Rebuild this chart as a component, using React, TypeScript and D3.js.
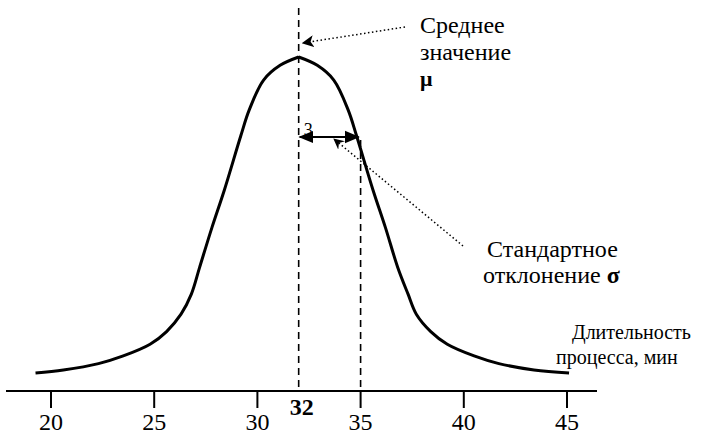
import React from "react";
import * as d3 from "d3";

const tickValues = [20, 25, 30, 35, 40, 45];
const tickLabels = ["20", "25", "30", "35", "40", "45"];
const meanValue = 32;
const sigmaEdge = 35;
const durations = [19.25, 20.6, 22.3, 23.5, 24.8, 25.6, 26.3, 26.8, 27.2, 27.8, 28.4, 29.2, 29.6, 30.3, 31.1, 32, 32.9, 33.7, 34.4, 34.8, 35.6, 36.2, 36.8, 37.3, 37.7, 38.4, 39.2, 40.5, 41.7, 43.4, 45.1];
const density = [0.054, 0.063, 0.082, 0.105, 0.14, 0.178, 0.23, 0.29, 0.37, 0.49, 0.602, 0.765, 0.841, 0.931, 0.975, 1, 0.975, 0.931, 0.841, 0.765, 0.602, 0.49, 0.37, 0.29, 0.23, 0.178, 0.14, 0.105, 0.082, 0.063, 0.054];
const meanLabel = ["Среднее", "значение"];
const meanSymbol = "μ";
const sigmaLabel1 = "Стандартное";
const sigmaLabel2 = "отклонение ";
const sigmaSymbol = "σ";
const axisTitle = ["Длительность", "процесса, мин"];

const FONT = "'Liberation Serif', 'DejaVu Serif', 'Times New Roman', Times, serif";

function T(props: any) {
  const { children, ...rest } = props;
  return (
    <text {...rest} style={{ fontFamily: FONT }}>
      {children}
    </text>
  );
}

export default function App() {
  const W = 728, H = 435;
  const x = d3.scaleLinear().domain([20, 45]).range([51, 567]);
  const y = d3.scaleLinear().domain([0, 1]).range([391, 57]);
  const pts = durations.map((d, i) => [d, density[i]] as [number, number]);
  const peak = pts.findIndex((p) => p[0] === meanValue);
  const line = d3
    .line<[number, number]>()
    .x((d) => x(d[0]))
    .y((d) => y(d[1]))
    .curve(d3.curveCatmullRom.alpha(0.5));
  const left = line(pts.slice(0, peak + 1)) || "";
  const right = line(pts.slice(peak)) || "";
  const xm = x(meanValue);
  const xs = x(sigmaEdge);
  const ya = 137;
  return (
    <svg width={W} height={H} style={{ position: "absolute", left: 0, top: 0, background: "#fff" }}>
      <defs>
        <marker id="ah" viewBox="0 0 12 12" refX="11" refY="6" markerWidth="12" markerHeight="12" markerUnits="userSpaceOnUse" orient="auto-start-reverse">
          <path d="M0,0 L12,6 L0,12 L3,6 Z" fill="#000" />
        </marker>
        <marker id="ah2" viewBox="0 0 12 12" refX="11" refY="6" markerWidth="15" markerHeight="15" markerUnits="userSpaceOnUse" orient="auto-start-reverse">
          <path d="M0,1 L12,6 L0,11 Z" fill="#000" />
        </marker>
        <marker id="ah3" viewBox="0 0 12 12" refX="11" refY="6" markerWidth="11" markerHeight="11" markerUnits="userSpaceOnUse" orient="auto">
          <path d="M0,0 L12,6 L0,12 L4,6 Z" fill="#000" />
        </marker>
      </defs>
      <line x1={6} x2={597} y1={391} y2={391} stroke="#000" strokeWidth={2} />
      {tickValues.map((t, i) => (
        <g key={t}>
          <line x1={x(t)} x2={x(t)} y1={391} y2={408} stroke="#000" strokeWidth={2} />
          <T x={x(t)} y={430} fontSize={24} textAnchor="middle">{tickLabels[i]}</T>
        </g>
      ))}
      <T x={xm + 3} y={415} fontSize={24} fontWeight="bold" textAnchor="middle">{String(meanValue)}</T>
      <line x1={xm} x2={xm} y1={8} y2={391} stroke="#000" strokeWidth={1.6} strokeDasharray="7,5" />
      <line x1={xs} x2={xs} y1={140} y2={391} stroke="#000" strokeWidth={1.6} strokeDasharray="7,5" />
      <path d={left} fill="none" stroke="#000" strokeWidth={3} strokeLinejoin="round" />
      <path d={right} fill="none" stroke="#000" strokeWidth={3} strokeLinejoin="round" />
      <T x={xm + 5} y={ya - 1} fontSize={18}>3</T>
      <line x1={xm + 1} x2={xs - 2} y1={ya} y2={ya} stroke="#000" strokeWidth={2} markerStart="url(#ah2)" markerEnd="url(#ah2)" />
      <line x1={405} y1={27} x2={xm + 4} y2={43} stroke="#000" strokeWidth={1.5} strokeDasharray="1.5,2.5" markerEnd="url(#ah)" />
      <line x1={463} y1={246} x2={334} y2={139} stroke="#000" strokeWidth={1.5} strokeDasharray="1.5,2.5" markerEnd="url(#ah3)" />
      <T x={420} y={33} fontSize={24}>{meanLabel[0]}</T>
      <T x={420} y={60} fontSize={24}>{meanLabel[1]}</T>
      <T x={420} y={86} fontSize={22} fontWeight="bold">{meanSymbol}</T>
      <T x={487} y={257} fontSize={24}>{sigmaLabel1}</T>
      <T x={483} y={283} fontSize={24}>
        {sigmaLabel2}
        <tspan fontWeight="bold">{sigmaSymbol}</tspan>
      </T>
      <T x={572} y={339} fontSize={20}>{axisTitle[0]}</T>
      <T x={556} y={364} fontSize={20}>{axisTitle[1]}</T>
    </svg>
  );
}
